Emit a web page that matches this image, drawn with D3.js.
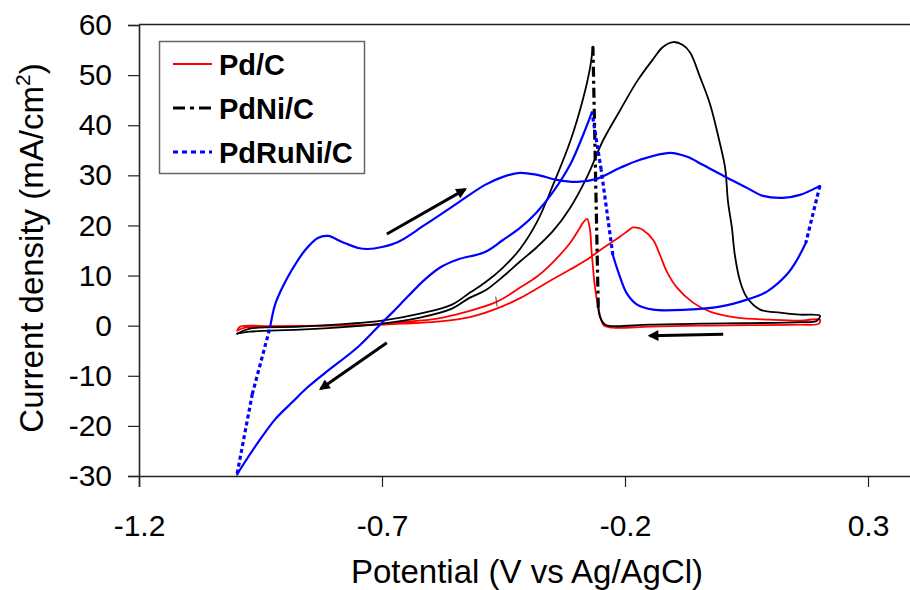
<!DOCTYPE html>
<html>
<head>
<meta charset="utf-8">
<script src="https://cdn.jsdelivr.net/npm/d3@7/dist/d3.min.js"></script>
<style>
  html, body { margin: 0; padding: 0; background: #fff; }
  svg { display: block; font-family: "Liberation Sans", Arial, sans-serif; }
</style>
</head>
<body>
<svg id="chart" width="910" height="590"></svg>
<script>
// Cyclic voltammograms: [potential (V vs Ag/AgCl), current density (mA/cm2)], in scan order
const pdC = [
  [-0.998,-1.0],[-0.982,-0.4],[-0.930,-0.2],[-0.869,-0.1],[-0.786,0.0],[-0.725,0.1],
  [-0.657,0.4],[-0.587,0.8],[-0.519,1.7],[-0.451,3.9],[-0.416,5.5],[-0.381,7.4],
  [-0.348,9.3],[-0.313,11.2],[-0.278,13.2],[-0.245,15.5],[-0.210,17.8],[-0.193,19.0],
  [-0.184,19.6],[-0.173,19.5],[-0.163,19.1],[-0.142,17.1],[-0.128,14.1],[-0.114,10.8],
  [-0.093,7.6],[-0.060,4.6],[-0.025,2.8],[0.030,1.6],[0.098,1.2],[0.160,1.0],[0.201,1.2],
  [0.199,0.4],[0.160,0.2],[0.057,0.1],[-0.046,0.0],[-0.149,-0.2],[-0.225,-0.4],
  [-0.243,0.0],[-0.249,1.2],[-0.256,4.2],[-0.262,7.8],[-0.266,11.8],[-0.269,15.1],
  [-0.272,19.1],[-0.278,21.3],[-0.286,20.6],[-0.293,19.5],[-0.313,16.5],[-0.348,12.7],
  [-0.381,9.8],[-0.416,7.6],[-0.463,4.8],[-0.533,2.6],[-0.587,1.4],[-0.657,0.7],
  [-0.725,0.2],[-0.828,0.0],[-0.930,-0.1],[-0.992,-0.2],[-0.998,-1.0]
];
const pdNiC = [
  [-0.998,-1.6],[-0.972,-1.2],[-0.869,-0.8],[-0.766,-0.2],[-0.700,0.4],[-0.622,1.6],
  [-0.556,3.4],[-0.519,5.6],[-0.488,7.0],[-0.451,9.8],[-0.416,12.8],[-0.381,15.7],
  [-0.348,18.9],[-0.313,23.5],[-0.278,29.7],[-0.245,37.0],[-0.210,43.0],[-0.175,48.8],
  [-0.142,53.2],[-0.122,55.6],[-0.101,56.6],[-0.081,56.0],[-0.066,54.5],[-0.046,49.7],
  [-0.025,44.2],[-0.005,36.5],[0.006,31.5],[0.012,24.7],[0.020,19.5],[0.026,14.1],
  [0.037,8.8],[0.051,5.6],[0.078,3.2],[0.119,2.6],[0.160,2.2],[0.201,2.0],
  [0.195,1.0],[0.160,0.7],[0.057,0.5],[-0.046,0.4],[-0.149,0.2],[-0.225,-0.1],
  [-0.241,0.2],[-0.251,1.6],[-0.255,3.6],[-0.266,55.7],[-0.272,51.4],[-0.286,45.4],
  [-0.313,36.7],[-0.348,28.1],[-0.381,20.7],[-0.416,15.3],[-0.451,11.6],[-0.488,8.6],
  [-0.519,6.6],[-0.556,4.2],[-0.622,2.4],[-0.700,1.0],[-0.766,0.4],[-0.869,-0.2],
  [-0.972,-0.6],[-0.998,-1.6]
];
const pdRuNiC = [
  [-0.998,-29.5],[-0.967,-13.7],[-0.930,-0.2],[-0.920,4.2],[-0.904,7.8],[-0.885,11.2],
  [-0.858,15.1],[-0.832,17.5],[-0.811,17.9],[-0.782,16.7],[-0.749,15.5],[-0.729,15.3],
  [-0.700,15.7],[-0.667,16.7],[-0.612,20.1],[-0.556,23.7],[-0.488,28.1],[-0.451,29.7],
  [-0.416,30.5],[-0.381,30.1],[-0.340,29.1],[-0.299,28.7],[-0.258,29.3],[-0.210,31.5],
  [-0.169,33.1],[-0.107,34.5],[-0.072,33.7],[-0.040,32.1],[0.010,29.5],[0.051,27.5],
  [0.084,25.9],[0.125,25.5],[0.160,26.1],[0.201,27.9],
  [0.172,16.5],[0.152,12.8],[0.133,10.2],[0.092,6.8],[0.051,5.2],[-0.005,3.8],
  [-0.072,3.2],[-0.142,3.2],[-0.175,4.2],[-0.196,6.4],[-0.212,10.2],[-0.225,14.1],
  [-0.249,31.1],[-0.268,42.6],[-0.286,38.1],[-0.313,32.1],[-0.348,26.7],[-0.381,22.7],
  [-0.416,19.5],[-0.451,17.1],[-0.488,14.7],[-0.544,13.2],[-0.577,11.8],[-0.612,9.2],
  [-0.647,5.8],[-0.679,2.6],[-0.700,0.6],[-0.749,-4.2],[-0.817,-9.4],[-0.852,-12.2],
  [-0.885,-15.3],[-0.920,-18.7],[-0.955,-23.3],[-0.988,-28.1],[-0.998,-29.7]
];

const seriesNames = ["Pd/C", "PdNi/C", "PdRuNi/C"];
const seriesData = [pdC, pdNiC, pdRuNiC];

const xTicks = [-1.2, -0.7, -0.2, 0.3];
const yTicks = [-30, -20, -10, 0, 10, 20, 30, 40, 50, 60];

// Scan-direction arrows: [[x0, y0], [x1, y1]] in data units
const scanArrows = [
  [[-0.690, 18.3], [-0.529, 27.2]],
  [[-0.690, -3.4], [-0.826, -12.6]],
  [[0.002, -1.7], [-0.149, -2.0]]
];

// Short tick mark on the Pd/C forward branch
const branchTick = [[-0.466, 5.8], [-0.463, 3.8]];

const xLabel = "Potential (V vs Ag/AgCl)";

// ---- drawing ----
const svg = d3.select("#chart");
const plotLeft = 139, plotTop = 25, plotBottom = 476;
const pxPerVolt = 486;

const x = d3.scaleLinear().domain([-1.2, 0.4]).range([plotLeft, plotLeft + 1.6 * pxPerVolt]);
const y = d3.scaleLinear().domain([-30, 60]).range([plotBottom, plotTop]);

const styles = [
  { color: "#ff0000", width: 1.8, dash: "12,5,4,5", legendDash: null },
  { color: "#000000", width: 1.8, dash: "10,4,3,4", legendDash: "12,5,4,5" },
  { color: "#0000ff", width: 2.2, dash: "4,3", legendDash: "5,4" }
];

// Plot frame (top edge) and clip
const defs = svg.append("defs");
defs.append("clipPath").attr("id", "plotClip")
  .append("rect").attr("x", plotLeft).attr("y", plotTop - 2)
  .attr("width", 910 - plotLeft).attr("height", plotBottom - plotTop + 4);

svg.append("line")
  .attr("x1", plotLeft).attr("x2", 910).attr("y1", plotTop - 0.5).attr("y2", plotTop - 0.5)
  .attr("stroke", "#222").attr("stroke-width", 1.6);

// Axes
const fontSize = 30;
const yAxis = d3.axisLeft(y).tickValues(yTicks).tickSize(11).tickPadding(16).tickFormat(d => String(d));
const gy = svg.append("g").attr("transform", `translate(${plotLeft},0)`).call(yAxis);
gy.select(".domain").attr("stroke", "#222").attr("stroke-width", 1.6);
gy.selectAll(".tick line").attr("stroke", "#222").attr("stroke-width", 1.2);
gy.selectAll(".tick text").attr("font-size", fontSize).attr("fill", "#000")
  .attr("font-family", "Liberation Sans, Arial, sans-serif");

const xAxis = d3.axisBottom(x).tickValues(xTicks).tickSize(11).tickPadding(28).tickFormat(d => String(d));
const gx = svg.append("g").attr("transform", `translate(0,${plotBottom})`).call(xAxis);
gx.select(".domain").attr("stroke", "#222").attr("stroke-width", 1.6);
gx.selectAll(".tick line").attr("stroke", "#222").attr("stroke-width", 1.2);
gx.selectAll(".tick text").attr("font-size", fontSize).attr("fill", "#000")
  .attr("font-family", "Liberation Sans, Arial, sans-serif");

// Axis titles
svg.append("text")
  .attr("x", 527).attr("y", 583)
  .attr("text-anchor", "middle").attr("font-size", 33).attr("fill", "#000")
  .text(xLabel);

const yTitle = svg.append("text")
  .attr("transform", "translate(43,248) rotate(-90)")
  .attr("text-anchor", "middle").attr("font-size", 33).attr("fill", "#000");
yTitle.append("tspan").text("Current density (mA/cm");
yTitle.append("tspan").attr("font-size", 21).attr("dy", -13).text("2");
yTitle.append("tspan").attr("dy", 13).text(")");

// Curves: dense runs are drawn solid, sparse steep jumps between samples are drawn dashed
const plot = svg.append("g").attr("clip-path", "url(#plotClip)");
const smooth = d3.line().x(d => x(d[0])).y(d => y(d[1])).curve(d3.curveCatmullRom.alpha(0.5));

function splitRuns(pts) {
  const runs = [], jumps = [];
  let cur = [pts[0]];
  for (let i = 1; i < pts.length; i++) {
    const a = pts[i - 1], b = pts[i];
    const dx = x(b[0]) - x(a[0]), dy = y(b[1]) - y(a[1]);
    const len = Math.hypot(dx, dy);
    if (len > 48 && Math.abs(dy) > 2 * Math.abs(dx)) {
      if (cur.length > 1) runs.push(cur);
      jumps.push([a, b]);
      cur = [b];
    } else {
      cur.push(b);
    }
  }
  if (cur.length > 1) runs.push(cur);
  return { runs, jumps };
}

seriesData.forEach((pts, i) => {
  const st = styles[i];
  const g = plot.append("g");
  const { runs, jumps } = splitRuns(pts);
  runs.forEach(r => {
    g.append("path").attr("d", smooth(r))
      .attr("fill", "none").attr("stroke", st.color)
      .attr("stroke-width", st.width).attr("stroke-linejoin", "round").attr("stroke-linecap", "round");
  });
  jumps.forEach(([a, b]) => {
    g.append("line")
      .attr("x1", x(a[0])).attr("y1", y(a[1])).attr("x2", x(b[0])).attr("y2", y(b[1]))
      .attr("stroke", st.color).attr("stroke-width", 3.2).attr("stroke-dasharray", st.dash);
  });
});

plot.append("line")
  .attr("x1", x(branchTick[0][0])).attr("y1", y(branchTick[0][1]))
  .attr("x2", x(branchTick[1][0])).attr("y2", y(branchTick[1][1]))
  .attr("stroke", "#444").attr("stroke-width", 1);

// Scan-direction arrows
defs.append("marker")
  .attr("id", "arrowHead").attr("viewBox", "0 0 10 10")
  .attr("refX", 8).attr("refY", 5).attr("markerWidth", 4.2).attr("markerHeight", 3.6)
  .attr("orient", "auto").attr("markerUnits", "strokeWidth")
  .append("path").attr("d", "M0,0 L10,5 L0,10 Z").attr("fill", "#000");

scanArrows.forEach(([a, b]) => {
  svg.append("line")
    .attr("x1", x(a[0])).attr("y1", y(a[1])).attr("x2", x(b[0])).attr("y2", y(b[1]))
    .attr("stroke", "#000").attr("stroke-width", 3)
    .attr("marker-end", "url(#arrowHead)");
});

// Legend
const legend = svg.append("g");
legend.append("rect")
  .attr("x", 159.5).attr("y", 41.5).attr("width", 205).attr("height", 132)
  .attr("fill", "#fff").attr("stroke", "#666").attr("stroke-width", 1.5);

seriesNames.forEach((name, i) => {
  const st = styles[i];
  const base = 75 + i * 44;
  legend.append("line")
    .attr("x1", 173).attr("x2", 212).attr("y1", base - 11).attr("y2", base - 11)
    .attr("stroke", st.color)
    .attr("stroke-width", st.legendDash ? 3 : 2)
    .attr("stroke-dasharray", st.legendDash);
  legend.append("text")
    .attr("x", 219).attr("y", base)
    .attr("font-size", 29).attr("font-weight", "bold").attr("fill", "#000")
    .text(name);
});
</script>
</body>
</html>
